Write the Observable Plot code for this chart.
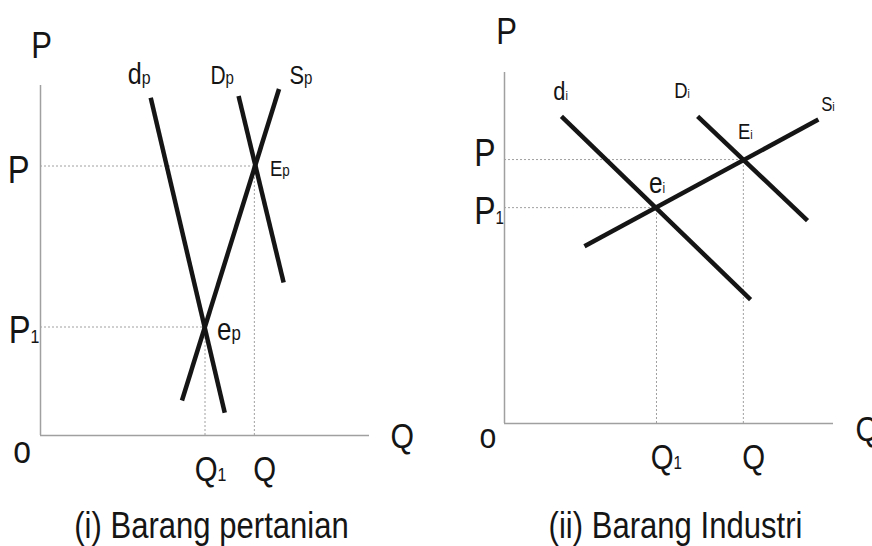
<!DOCTYPE html>
<html><head><meta charset="utf-8">
<script src="https://cdn.jsdelivr.net/npm/d3@7"></script>
<script src="https://cdn.jsdelivr.net/npm/@observablehq/plot@0.6"></script>
<style>
html,body{margin:0;padding:0;background:#fff;}
#wrap{display:flex;width:872px;height:546px;overflow:hidden;}
#wrap svg{flex:none;}
</style></head><body><div id="wrap"></div>
<script>
const FONT = "'Liberation Sans',Arial,Helvetica,sans-serif";
const NARROW = 0.84; // horizontal squeeze to mimic the condensed face of the original
const INK = "#151515";
const GREY = "#a0a0a0";

// ---------- Panel (i) Barang pertanian ----------
const agriCurves = [
  {name: "d", sub: "p", q0: 33.5, p0: 96.5, q1: 56.0, p1: 6.5},
  {name: "D", sub: "p", q0: 60.2, p0: 97.0, q1: 73.9, p1: 43.7},
  {name: "S", sub: "p", q0: 72.5, p0: 99.0, q1: 43.0, p1: 10.0}
];
const agriEquilibria = [
  {name: "E", sub: "p", q: 65, p: 77},
  {name: "e", sub: "p", q: 50, p: 31}
];
const agriPriceTicks = [
  {label: "P", sub: "", p: 77},
  {label: "P", sub: "1", p: 31}
];
const agriQuantityTicks = [
  {label: "Q", sub: "1", q: 50},
  {label: "Q", sub: "", q: 65}
];
const agriCaption = "(i) Barang pertanian";

// ---------- Panel (ii) Barang Industri ----------
const indCurves = [
  {name: "d", sub: "i", q0: 17.3, p0: 87.5, q1: 74.8, p1: 35.3},
  {name: "D", sub: "i", q0: 58.7, p0: 87.5, q1: 92.1, p1: 57.8},
  {name: "S", sub: "i", q0: 95.4, p0: 86.6, q1: 24.3, p1: 50.5}
];
const indEquilibria = [
  {name: "E", sub: "i", q: 72.6, p: 75.2},
  {name: "e", sub: "i", q: 46.2, p: 61.5}
];
const indPriceTicks = [
  {label: "P", sub: "", p: 75.2},
  {label: "P", sub: "1", p: 61.5}
];
const indQuantityTicks = [
  {label: "Q", sub: "1", q: 46.2},
  {label: "Q", sub: "", q: 72.6}
];
const indCaption = "(ii) Barang Industri";

const axisLabels = {price: "P", quantity: "Q", origin: "o"};

// text with optional subscript: main ends where the subscript starts
function subText(datum, x, y, main, sub, o) {
  const base = {x, y, lineAnchor: "bottom", fontFamily: FONT, fill: INK, dx: o.dx, dy: o.dy};
  const marks = [Plot.text([datum], {...base, text: () => main, fontSize: o.size,
    textAnchor: sub ? "end" : (o.anchor || "middle")})];
  if (sub) marks.push(Plot.text([datum], {...base, text: () => sub, fontSize: o.subSize,
    textAnchor: "start", dy: o.dy + (o.subDy || 0)}));
  return marks;
}

function narrowText(svg) {
  svg.querySelectorAll("text").forEach(t => {
    let tr = t.getAttribute("transform") || "";
    if (t.hasAttribute("x") || t.hasAttribute("y")) {
      const x = +t.getAttribute("x") || 0, y = +t.getAttribute("y") || 0;
      t.removeAttribute("x"); t.removeAttribute("y");
      tr = `translate(${x},${y}) ` + tr;
    }
    t.setAttribute("transform", tr + ` scale(${NARROW},1)`);
  });
  return svg;
}

function panel(cfg) {
  const {curves, equilibria, priceTicks, quantityTicks, caption, margins, st} = cfg;
  const marks = [
    Plot.ruleX([0], {y1: 0, y2: 100, stroke: GREY, strokeWidth: 1.5}),
    Plot.ruleY([0], {x1: 0, x2: 100, stroke: GREY, strokeWidth: 1.5}),
    Plot.ruleY(equilibria, {y: "p", x1: 0, x2: "q", stroke: GREY, strokeWidth: 1, strokeDasharray: "2,2"}),
    Plot.ruleX(equilibria, {x: "q", y1: 0, y2: "p", stroke: GREY, strokeWidth: 1, strokeDasharray: "2,2"}),
    Plot.link(curves, {x1: "q0", y1: "p0", x2: "q1", y2: "p1", stroke: INK, strokeWidth: 4.5, strokeLinecap: "butt"})
  ];
  curves.forEach((c, i) => {
    const top = c.p0 >= c.p1 ? {q: c.q0, p: c.p0} : {q: c.q1, p: c.p1};
    marks.push(...subText(top, "q", "p", c.name, c.sub, st.curves[i]));
  });
  equilibria.forEach((e, i) => marks.push(...subText(e, "q", "p", e.name, e.sub, st.eq[i])));
  priceTicks.forEach((t, i) => marks.push(...subText({q: 0, p: t.p}, "q", "p", t.label, t.sub, {anchor: "end", ...st.pt[i]})));
  quantityTicks.forEach((t, i) => marks.push(...subText({q: t.q, p: 0}, "q", "p", t.label, t.sub, st.qt[i])));
  marks.push(...subText({q: 0, p: 0}, "q", "p", axisLabels.origin, "", st.origin));
  marks.push(...subText({q: 0, p: 100}, "q", "p", axisLabels.price, "", st.pAxis));
  marks.push(...subText({q: 100, p: 0}, "q", "p", axisLabels.quantity, "", {anchor: "start", ...st.qAxis}));
  marks.push(...subText({q: 50, p: 0}, "q", "p", caption, "", st.caption));
  return narrowText(Plot.plot({
    width: 436, height: 546, ...margins,
    x: {domain: [0, 100], axis: null},
    y: {domain: [0, 100], axis: null},
    style: {background: "white", overflow: "visible"},
    marks
  }));
}

const wrap = document.getElementById("wrap");
wrap.append(panel({
  curves: agriCurves, equilibria: agriEquilibria, priceTicks: agriPriceTicks,
  quantityTicks: agriQuantityTicks, caption: agriCaption,
  margins: {marginLeft: 40, marginRight: 67, marginTop: 85, marginBottom: 111},
  st: {
    curves: [
      {dx: -9, dy: -14, size: 30, subSize: 19},
      {dx: -13, dy: -12.5, size: 25, subSize: 18},
      {dx: 25, dy: -5.5, size: 26, subSize: 18}
    ],
    eq: [
      {dx: 28, dy: 9.5, size: 22, subSize: 16},
      {dx: 26.5, dy: 12.5, size: 31, subSize: 20}
    ],
    pt: [{dx: -11, dy: 16.5, size: 39}, {dx: -10, dy: 15.5, size: 39, subSize: 19}],
    qt: [{dx: 12.5, dy: 45, size: 35, subSize: 19}, {dx: -1, dy: 45, size: 35, anchor: "start"}],
    origin: {dx: -18.5, dy: 27, size: 38},
    pAxis: {dx: 1, dy: -28, size: 37},
    qAxis: {dx: 21, dy: 12, size: 36},
    caption: {dx: 6.5, dy: 102, size: 37}
  }
}));
wrap.append(panel({
  curves: indCurves, equilibria: indEquilibria, priceTicks: indPriceTicks,
  quantityTicks: indQuantityTicks, caption: indCaption,
  margins: {marginLeft: 68, marginRight: 39, marginTop: 72, marginBottom: 123},
  st: {
    curves: [
      {dx: 4, dy: -16, size: 26, subSize: 13},
      {dx: -10, dy: -18, size: 22, subSize: 12},
      {dx: 14, dy: -9, size: 20, subSize: 13}
    ],
    eq: [
      {dx: 7, dy: -21, size: 22, subSize: 13},
      {dx: 6, dy: -15, size: 29, subSize: 14}
    ],
    pt: [{dx: -9, dy: 6, size: 38}, {dx: -9, dy: 16, size: 38, subSize: 18}],
    qt: [{dx: 17, dy: 45, size: 35, subSize: 18}, {dx: -1, dy: 45, size: 35, anchor: "start"}],
    origin: {dx: -16.5, dy: 24, size: 36},
    pAxis: {dx: 2, dy: -29, size: 37},
    qAxis: {dx: 22, dy: 17, size: 36},
    caption: {dx: 6.5, dy: 114, size: 37}
  }
}));
</script></body></html>
